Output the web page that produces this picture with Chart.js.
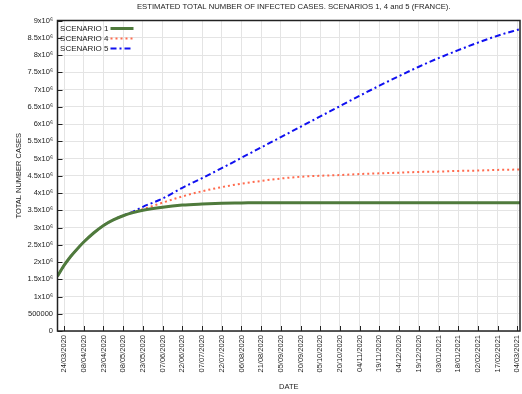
<!DOCTYPE html>
<html>
<head>
<meta charset="utf-8">
<script src="https://cdn.jsdelivr.net/npm/chart.js@4"></script>
<style>
  html, body { margin: 0; padding: 0; background: #fff; }
  #wrap { width: 522px; height: 394px; }
</style>
</head>
<body>
<div id="wrap"><canvas id="myChart" width="522" height="394"></canvas></div>
<script>
// days counted from 24/03/2020
const days = [-5, 0, 5, 10, 15, 22.5, 30, 37.5, 45, 52.5, 60, 75, 90, 105, 120, 135, 150, 165, 180, 195, 210, 225, 240, 255, 270, 285, 300, 315, 330, 347];
const scenario1 = [1.59e6, 1.90e6, 2.16e6, 2.38e6, 2.58e6, 2.84e6, 3.06e6, 3.22e6, 3.34e6, 3.43e6, 3.50e6, 3.59e6, 3.65e6, 3.68e6, 3.70e6, 3.71e6, 3.72e6, 3.72e6, 3.72e6, 3.72e6, 3.72e6, 3.72e6, 3.72e6, 3.72e6, 3.72e6, 3.72e6, 3.72e6, 3.72e6, 3.72e6, 3.72e6];
const scenario4 = [1.59e6, 1.90e6, 2.16e6, 2.38e6, 2.58e6, 2.84e6, 3.06e6, 3.22e6, 3.34e6, 3.44e6, 3.53e6, 3.72e6, 3.90e6, 4.05e6, 4.17e6, 4.27e6, 4.35e6, 4.42e6, 4.47e6, 4.50e6, 4.52e6, 4.55e6, 4.57e6, 4.59e6, 4.61e6, 4.62e6, 4.64e6, 4.65e6, 4.67e6, 4.68e6];
const scenario5 = [1.59e6, 1.90e6, 2.16e6, 2.38e6, 2.58e6, 2.84e6, 3.06e6, 3.22e6, 3.35e6, 3.46e6, 3.60e6, 3.84e6, 4.15e6, 4.43e6, 4.72e6, 5.02e6, 5.32e6, 5.62e6, 5.92e6, 6.22e6, 6.52e6, 6.82e6, 7.11e6, 7.39e6, 7.66e6, 7.91e6, 8.14e6, 8.36e6, 8.56e6, 8.75e6];

const tickDays = [0, 15, 30, 45, 60, 75, 90, 105, 120, 135, 150, 165, 180, 195, 210, 225, 240, 255, 270, 285, 300, 315, 330, 345];
const tickLabels = ['24/03/2020', '08/04/2020', '23/04/2020', '08/05/2020', '23/05/2020', '07/06/2020', '22/06/2020', '07/07/2020', '22/07/2020', '06/08/2020', '21/08/2020', '05/09/2020', '20/09/2020', '05/10/2020', '20/10/2020', '04/11/2020', '19/11/2020', '04/12/2020', '19/12/2020', '03/01/2021', '18/01/2021', '02/02/2021', '17/02/2021', '04/03/2021'];
const yLabels = ['0', '500000', '1x10⁶', '1.5x10⁶', '2x10⁶', '2.5x10⁶', '3x10⁶', '3.5x10⁶', '4x10⁶', '4.5x10⁶', '5x10⁶', '5.5x10⁶', '6x10⁶', '6.5x10⁶', '7x10⁶', '7.5x10⁶', '8x10⁶', '8.5x10⁶', '9x10⁶'];

const chartTitle = 'ESTIMATED TOTAL NUMBER OF INFECTED CASES. SCENARIOS 1, 4 and 5 (FRANCE).';
const seriesNames = ['SCENARIO 1', 'SCENARIO 4', 'SCENARIO 5'];
const colors = ['#4f7a3c', '#ff6a4d', '#1010f0'];
const font = '"Liberation Sans", Arial, sans-serif';

function pts(arr) {
  return days.map((d, i) => ({ x: d, y: arr[i] }));
}

// gnuplot-ish frame, inner ticks, legend and title (centred over the plot, not the canvas)
const frame = {
  id: 'frame',
  afterDatasetsDraw(chart) {
    const c = chart.ctx;
    const a = chart.chartArea;
    const xs = chart.scales.x, ys = chart.scales.y;
    c.save();
    c.strokeStyle = '#222';
    c.lineWidth = 1;
    c.beginPath();
    ys.ticks.forEach(t => {
      const y = Math.round(ys.getPixelForValue(t.value)) + 0.5;
      c.moveTo(a.left, y); c.lineTo(a.left + 5, y);
    });
    xs.ticks.forEach(t => {
      const x = Math.round(xs.getPixelForValue(t.value)) + 0.5;
      c.moveTo(x, a.bottom); c.lineTo(x, a.bottom - 5);
    });
    c.stroke();
    c.lineWidth = 1.5;
    c.strokeRect(a.left, a.top, a.right - a.left, a.bottom - a.top);

    // title
    c.fillStyle = '#222';
    c.font = '7.7px ' + font;
    c.textAlign = 'center';
    c.textBaseline = 'middle';
    c.fillText(chartTitle, (a.left + a.right) / 2 + 5, 7);

    // legend
    c.font = '8px ' + font;
    c.textAlign = 'right';
    chart.data.datasets.forEach((d, i) => {
      const y = a.top + 8 + i * 10;
      const tx = a.left + 51;
      c.fillStyle = '#222';
      c.fillText(seriesNames[i], tx, y);
      c.strokeStyle = d.borderColor;
      c.lineWidth = d.borderWidth;
      c.setLineDash(d.borderDash || []);
      c.beginPath();
      c.moveTo(tx + 2, y); c.lineTo(tx + 25, y);
      c.stroke();
      c.setLineDash([]);
    });
    c.restore();
  }
};

const ctx = document.getElementById('myChart').getContext('2d');
const myChart = new Chart(ctx, {
  type: 'line',
  data: {
    datasets: [
      { label: seriesNames[0], data: pts(scenario1), borderColor: colors[0], borderWidth: 3, pointRadius: 0, cubicInterpolationMode: 'monotone' },
      { label: seriesNames[1], data: pts(scenario4), borderColor: colors[1], borderWidth: 2, borderDash: [2, 3], pointRadius: 0, cubicInterpolationMode: 'monotone' },
      { label: seriesNames[2], data: pts(scenario5), borderColor: colors[2], borderWidth: 2, borderDash: [6, 3, 2, 3], pointRadius: 0, cubicInterpolationMode: 'monotone' }
    ]
  },
  plugins: [frame],
  options: {
    responsive: false,
    animation: false,
    layout: { padding: { left: 0, right: 2, top: 20.5, bottom: 0 } },
    plugins: {
      legend: { display: false },
      tooltip: { enabled: false },
      title: { display: false }
    },
    scales: {
      x: {
        type: 'linear',
        min: -5,
        max: 347,
        afterBuildTicks: s => { s.ticks = tickDays.map(v => ({ value: v })); },
        afterFit: s => { s.height = 63; s.paddingLeft = 0; s.paddingRight = 0; },
        ticks: {
          autoSkip: false,
          minRotation: 90,
          maxRotation: 90,
          color: '#222',
          padding: 4,
          font: { family: font, size: 7.5 },
          callback: (v, i) => tickLabels[i]
        },
        grid: { color: '#e4e4e4', drawTicks: false },
        border: { display: false },
        title: { display: true, text: 'DATE', color: '#222', padding: { top: 4, bottom: 2.5 },
          font: { family: font, size: 7.5 } }
      },
      y: {
        min: 0,
        max: 9e6,
        afterBuildTicks: s => { s.ticks = yLabels.map((l, i) => ({ value: i * 500000 })); },
        afterFit: s => { s.width = 57.5; s.paddingTop = 0; s.paddingBottom = 0; },
        ticks: {
          color: '#222',
          padding: 4.5,
          font: { family: font, size: 7.5 },
          callback: (v, i) => yLabels[i]
        },
        grid: { color: '#e4e4e4', drawTicks: false },
        border: { display: false },
        title: { display: true, text: 'TOTAL NUMBER CASES', color: '#222', padding: { top: 14.5, bottom: 4 },
          font: { family: font, size: 7.5 } }
      }
    }
  }
});
</script>
</body>
</html>
